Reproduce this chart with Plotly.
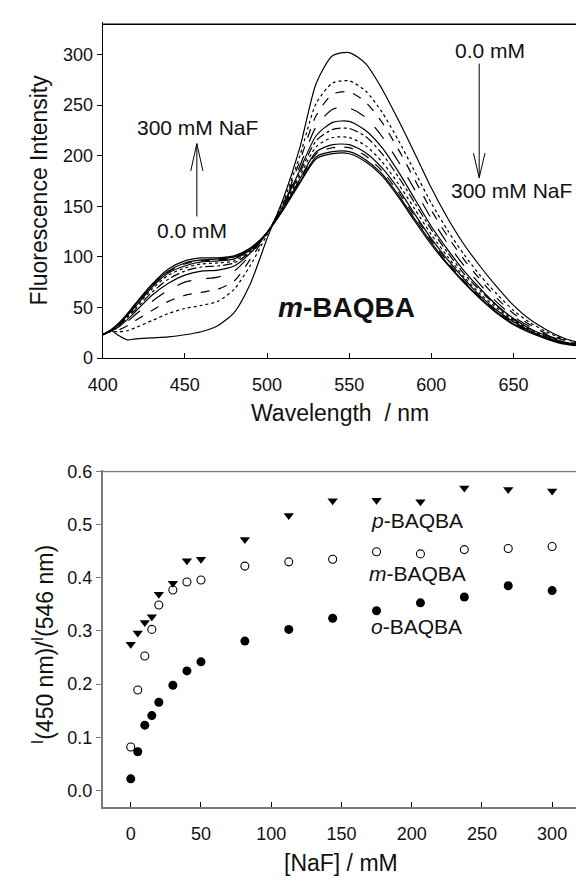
import plotly.graph_objects as go

# ---------------- data: top panel (fluorescence spectra, m-BAQBA) ----------------
wavelength = [400, 405, 410, 415, 420, 430, 440, 450, 460, 470, 480, 490, 500, 510, 520, 530,
              540, 550, 560, 570, 580, 590, 600, 610, 620, 630, 640, 650, 660, 670, 680, 690]

spec_0 = [23, 27, 22, 18, 19, 20, 21, 23, 26, 32, 45, 74, 118, 158, 208, 272,
          299, 302, 291, 266, 235, 202, 168, 138, 112, 90, 70, 52, 38, 28, 20, 15]
spec_1 = [23, 26, 26, 27, 30, 37, 44, 49, 52, 56, 68, 92, 122, 155, 200, 252,
          272, 274, 264, 243, 215, 184, 153, 126, 102, 81, 63, 47, 35, 26, 19, 15]
spec_2 = [23, 27, 28, 32, 37, 47, 56, 62, 65, 68, 76, 98, 123, 153, 195, 240,
          261, 263, 253, 233, 206, 176, 146, 120, 97, 77, 59, 44, 33, 24, 18, 14]
spec_3 = [23, 27, 30, 36, 43, 56, 67, 75, 78, 80, 86, 102, 124, 152, 190, 229,
          246, 247, 238, 219, 194, 166, 138, 113, 91, 72, 55, 41, 31, 23, 17, 14]
spec_4 = [23, 27, 31, 38, 46, 62, 74, 82, 86, 87, 91, 104, 124, 151, 186, 220,
          233, 234, 225, 208, 184, 157, 130, 107, 86, 68, 52, 39, 29, 22, 16, 13]
spec_5 = [23, 27, 32, 40, 48, 65, 78, 86, 90, 91, 94, 105, 124, 150, 183, 215,
          226, 227, 219, 202, 179, 153, 127, 104, 83, 66, 51, 38, 29, 21, 16, 13]
spec_6 = [23, 27, 33, 41, 50, 68, 82, 89, 93, 94, 96, 106, 124, 149, 180, 209,
          218, 218, 210, 194, 172, 147, 122, 100, 80, 63, 49, 37, 28, 21, 16, 13]
spec_7 = [23, 27, 33, 42, 51, 70, 84, 91, 95, 96, 98, 107, 124, 148, 177, 204,
          211, 211, 203, 188, 167, 142, 118, 97, 78, 61, 47, 36, 27, 20, 15, 12]
spec_8 = [23, 27, 34, 43, 52, 71, 85, 93, 96, 97, 99, 108, 124, 148, 176, 202,
          208, 208, 200, 185, 164, 140, 116, 95, 76, 60, 46, 35, 26, 20, 15, 12]
spec_9 = [23, 27, 34, 43, 53, 72, 86, 94, 97, 98, 100, 108, 124, 147, 174, 199,
          204, 204, 196, 182, 161, 137, 114, 93, 75, 59, 45, 34, 26, 19, 15, 12]
spec_10 = [23, 28, 35, 44, 54, 73, 88, 96, 99, 99, 101, 109, 124, 147, 173, 197,
           202, 202, 194, 180, 159, 135, 112, 92, 74, 58, 44, 33, 25, 19, 14, 12]

spectra = [spec_0, spec_1, spec_2, spec_3, spec_4, spec_5, spec_6, spec_7, spec_8, spec_9, spec_10]
dashes = ["solid", "dot", "dash", "longdash", "solid", "dashdot", "dot", "solid", "dash", "solid", "solid"]

top_xticks = [400, 450, 500, 550, 600, 650]
top_yticks = [0, 50, 100, 150, 200, 250, 300]

# ---------------- data: bottom panel (intensity ratio vs [NaF]) ----------------
naf = [0, 5, 10, 15, 20, 30, 40, 50, 81.25, 112.5, 143.75, 175, 206.25, 237.5, 268.75, 300]
ratio_p = [0.275, 0.296, 0.316, 0.327, 0.369, 0.390, 0.432, 0.435, 0.472, 0.517,
           0.545, 0.546, 0.543, 0.569, 0.566, 0.563]
ratio_m = [0.082, 0.189, 0.253, 0.303, 0.349, 0.377, 0.392, 0.396, 0.422, 0.430,
           0.435, 0.449, 0.445, 0.453, 0.455, 0.459]
ratio_o = [0.022, 0.073, 0.123, 0.141, 0.166, 0.198, 0.225, 0.242, 0.281, 0.303,
           0.324, 0.338, 0.353, 0.364, 0.385, 0.376]

bot_xticks = [0, 50, 100, 150, 200, 250, 300]
bot_yticks = [0.0, 0.1, 0.2, 0.3, 0.4, 0.5, 0.6]

# ---------------- figure ----------------
W, H = 576, 885
FONT = "Liberation Sans, Arial, sans-serif"
TXT = "#111111"
GRAY = "#7a7a7a"

fig = go.Figure()

for s, d in zip(spectra, dashes):
    fig.add_trace(go.Scatter(
        x=wavelength, y=s, mode="lines", xaxis="x", yaxis="y",
        line=dict(color="#000000", width=1.2, dash=d, shape="spline", smoothing=0.7),
        showlegend=False, hoverinfo="skip"))

fig.add_trace(go.Scatter(x=naf, y=ratio_p, mode="markers", xaxis="x2", yaxis="y2",
                         marker=dict(symbol="triangle-down", size=9, color="#000000"),
                         showlegend=False))
fig.add_trace(go.Scatter(x=naf, y=ratio_m, mode="markers", xaxis="x2", yaxis="y2",
                         marker=dict(symbol="circle-open", size=8, color="#000000",
                                     line=dict(width=1.1, color="#000000")),
                         showlegend=False))
fig.add_trace(go.Scatter(x=naf, y=ratio_o, mode="markers", xaxis="x2", yaxis="y2",
                         marker=dict(symbol="circle", size=9, color="#000000"),
                         showlegend=False))

x_dom = [90 / W, 1.0]
top_dom = [1 - 356.7 / H, 1 - 13.5 / H]
bot_dom = [1 - 815 / H, 1 - 471.5 / H]
top_range = [0, 332]
bot_range = [-0.03, 0.602]

axis_common = dict(showgrid=False, zeroline=False, tickfont=dict(family=FONT, size=18, color=TXT),
                   ticklen=5, tickwidth=1)

fig.update_layout(
    width=W, height=H, autosize=False,
    margin=dict(l=0, r=0, t=0, b=0, pad=0),
    paper_bgcolor="white", plot_bgcolor="white",
    font=dict(family=FONT, color=TXT),
    xaxis=dict(domain=x_dom, anchor="y", range=[400, 688], tickvals=top_xticks,
               ticks="inside", showline=True, linecolor="#000000", linewidth=1,
               tickcolor="#000000", ticklabelstandoff=10, **axis_common),
    yaxis=dict(domain=top_dom, anchor="x", range=top_range, tickvals=top_yticks,
               ticks="outside", showline=True, linecolor="#000000", linewidth=1,
               tickcolor="#000000", **axis_common),
    xaxis2=dict(domain=x_dom, anchor="y2", range=[-20, 317], tickvals=bot_xticks,
                ticks="inside", showline=True, linecolor=GRAY, linewidth=1.5,
                tickcolor="#000000", ticklabelstandoff=10, **axis_common),
    yaxis2=dict(domain=bot_dom, anchor="x2", range=bot_range, tickvals=bot_yticks,
                ticktext=[f"{v:.1f}" for v in bot_yticks],
                ticks="outside", showline=True, linecolor=GRAY, linewidth=1.5,
                tickcolor=GRAY, **axis_common),
)

ann_font = dict(family=FONT, size=21, color=TXT)
annotations = [
    # axis titles
    dict(text="Wavelength\u00a0\u00a0/ nm", xref="paper", yref="paper", x=334 / W, y=1 - 413 / H,
         showarrow=False, font=dict(family=FONT, size=23, color=TXT), xanchor="center", yanchor="middle"),
    dict(text="Fluorescence Intensity", xref="paper", yref="paper", x=25 / W, y=1 - 185 / H,
         textangle=-90, showarrow=False, font=dict(family=FONT, size=23, color=TXT),
         xanchor="center", yanchor="middle"),
    dict(text="[NaF] / mM", xref="paper", yref="paper", x=335 / W, y=1 - 873 / H,
         showarrow=False, font=dict(family=FONT, size=23, color=TXT), xanchor="center", yanchor="middle"),
    dict(text="<sup>I</sup>(450 nm)/<sup>I</sup>(546 nm)", xref="paper", yref="paper",
         x=29 / W, y=1 - 650 / H, textangle=-90, showarrow=False,
         font=dict(family=FONT, size=23, color=TXT), xanchor="center", yanchor="middle"),
    # top panel labels
    dict(text="0.0 mM", x=635.8, y=304, xref="x", yref="y", showarrow=False, font=ann_font),
    dict(text="300 mM NaF", x=648.5, y=166, xref="x", yref="y", showarrow=False, font=ann_font),
    dict(text="300 mM NaF", x=458, y=228, xref="x", yref="y", showarrow=False, font=ann_font),
    dict(text="0.0 mM", x=454.3, y=126, xref="x", yref="y", showarrow=False, font=ann_font),
    dict(text="<b><i>m</i>-BAQBA</b>", x=548.6, y=50, xref="x", yref="y", showarrow=False,
         font=dict(family=FONT, size=28, color=TXT)),
    # bottom panel labels
    dict(text="<i>p</i>-BAQBA", x=204, y=0.508, xref="x2", yref="y2", showarrow=False, font=ann_font),
    dict(text="<i>m</i>-BAQBA", x=204, y=0.409, xref="x2", yref="y2", showarrow=False, font=ann_font),
    dict(text="<i>o</i>-BAQBA", x=203.3, y=0.308, xref="x2", yref="y2", showarrow=False, font=ann_font),
]
fig.update_layout(annotations=annotations)

# frame tops (inside the plot areas) and arrows (open V heads) as line shapes
arrow_line = dict(color="#000000", width=1)
shapes = [
    dict(type="line", xref="x", yref="y", x0=400, x1=688, y0=330, y1=330,
         line=dict(color="#000000", width=1.5)),
    dict(type="line", xref="x2", yref="y2", x0=-20, x1=317, y0=0.6, y1=0.6,
         line=dict(color=GRAY, width=1.5)),
    # right arrow (pointing down)
    dict(type="line", xref="x", yref="y", x0=629.1, y0=291, x1=629.1, y1=178.2, line=arrow_line),
    dict(type="line", xref="x", yref="y", x0=625.6, y0=202.5, x1=629.1, y1=178.2, line=arrow_line),
    dict(type="line", xref="x", yref="y", x0=632.6, y0=202.5, x1=629.1, y1=178.2, line=arrow_line),
    # left arrow (pointing up)
    dict(type="line", xref="x", yref="y", x0=457.3, y0=140, x1=457.3, y1=212, line=arrow_line),
    dict(type="line", xref="x", yref="y", x0=453.6, y0=185, x1=457.3, y1=212, line=arrow_line),
    dict(type="line", xref="x", yref="y", x0=461.0, y0=185, x1=457.3, y1=212, line=arrow_line),
]
fig.update_layout(shapes=shapes)

fig.write_html("out.html")
